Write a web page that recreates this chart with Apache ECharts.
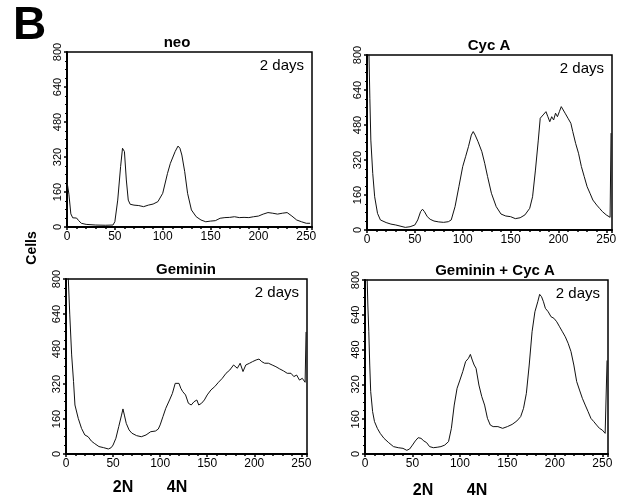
<!DOCTYPE html>
<html>
<head>
<meta charset="utf-8">
<script src="https://cdn.jsdelivr.net/npm/echarts@6/dist/echarts.min.js"></script>
<style>
  html, body { margin: 0; padding: 0; background: #fff; }
  #chart { width: 622px; height: 499px; }
</style>
</head>
<body>
<div id="chart"></div>
<script>
// panel titles
var panelTitles = ['neo', 'Cyc A', 'Geminin', 'Geminin + Cyc A'];
var dayLabel = '2 days';

// DNA content channel vs cell count
var neoCells = [
  [0, 207], [2, 150], [4, 60], [6, 42], [8, 40], [10, 41], [12, 30], [15, 17], [20, 12], [30, 9],
  [40, 8], [48, 9], [50, 24], [53, 123], [56, 276], [58, 360], [59, 367], [60, 345], [62, 215],
  [64, 123], [66, 104], [70, 100], [75, 98], [80, 93], [85, 100], [90, 105], [95, 116], [100, 154],
  [105, 245], [108, 291], [110, 299], [113, 345], [116, 370], [118, 360], [120, 329], [123, 253],
  [126, 154], [130, 78], [135, 47], [140, 32], [145, 24], [150, 27], [155, 29], [160, 40], [165, 43],
  [170, 44], [175, 47], [180, 43], [185, 44], [190, 43], [195, 47], [200, 50], [205, 59], [210, 66],
  [215, 63], [220, 59], [225, 63], [230, 66], [235, 50], [240, 32], [245, 24], [250, 17], [254, 17]
];

var cycACells = [
  [0, 900], [2, 820], [3, 600], [4, 411], [6, 259], [8, 152], [11, 76], [14, 46], [20, 34], [25, 27],
  [30, 23], [40, 12], [45, 15], [50, 23], [53, 46], [56, 84], [58, 95], [60, 84], [63, 61], [66, 49],
  [70, 41], [75, 37], [80, 35], [85, 38], [88, 46], [92, 107], [96, 198], [100, 290], [103, 335],
  [106, 381], [109, 434], [111, 450], [113, 434], [116, 404], [118, 396], [120, 358], [123, 305],
  [126, 244], [130, 168], [135, 107], [140, 73], [145, 64], [150, 61], [155, 52], [160, 56], [165, 69],
  [170, 99], [173, 152], [176, 274], [179, 411], [181, 511], [184, 526], [187, 541], [189, 518],
  [191, 495], [193, 518], [195, 503], [197, 534], [199, 518], [201, 541], [203, 564], [205, 556],
  [207, 534], [210, 511], [213, 488], [215, 450], [218, 396], [221, 351], [224, 290], [227, 244],
  [230, 198], [233, 168], [236, 137], [240, 114], [243, 99], [246, 84], [250, 69], [254, 58], [255, 443]
];

var gemininCells = [
  [0, 900], [2, 850], [4, 636], [6, 453], [8, 331], [9.5, 224], [13, 163], [16.5, 117], [20, 87],
  [23.5, 79], [27, 59], [30, 49], [35, 34], [40, 29], [45, 23], [48, 29], [50, 41], [53, 72], [56, 125],
  [59, 178], [60.5, 206], [62, 178], [64, 140], [67, 110], [70, 95], [75, 84], [80, 79], [85, 87],
  [90, 102], [95, 105], [98, 114], [100, 133], [103, 171], [106, 209], [110, 247], [113, 277],
  [116, 323], [118, 326], [120, 323], [122, 300], [124, 285], [127, 270], [130, 232], [133, 224],
  [136, 239], [139, 247], [141, 224], [144, 232], [147, 247], [150, 270], [154, 293], [158, 308],
  [162, 328], [166, 346], [170, 369], [174, 384], [178, 407], [182, 392], [185, 415], [188, 377],
  [191, 407], [195, 415], [198, 422], [202, 430], [205, 434], [208, 422], [211, 415], [215, 415],
  [219, 407], [223, 399], [227, 389], [231, 380], [235, 369], [239, 369], [242, 354], [245, 361],
  [248, 338], [251, 346], [254, 328], [255, 558]
];

var gemCycACells = [
  [0, 900], [2, 850], [3, 685], [4, 562], [5, 409], [6, 287], [8, 195], [10, 149], [13, 118], [16, 95],
  [20, 72], [25, 52], [30, 34], [35, 29], [40, 26], [44, 17], [47, 23], [50, 41], [53, 60], [56, 75],
  [59, 72], [62, 60], [65, 52], [68, 34], [72, 29], [76, 31], [80, 34], [84, 41], [88, 57], [91, 118],
  [94, 225], [97, 302], [100, 340], [103, 379], [106, 425], [109, 440], [111, 458], [113, 432],
  [115, 409], [117, 394], [120, 317], [123, 264], [126, 225], [129, 164], [132, 133], [135, 126],
  [140, 126], [145, 118], [150, 126], [155, 136], [160, 152], [164, 172], [167, 210], [170, 279],
  [173, 409], [176, 562], [179, 654], [182, 700], [184, 734], [186, 723], [188, 700], [190, 670],
  [193, 654], [196, 631], [199, 624], [202, 608], [205, 585], [208, 562], [211, 539], [214, 509],
  [217, 471], [220, 409], [223, 333], [226, 294], [229, 256], [232, 225], [235, 195], [238, 164],
  [241, 149], [244, 133], [247, 118], [250, 110], [253, 95], [255, 430]
];

var panelData = [neoCells, cycACells, gemininCells, gemCycACells];

var font = '"Liberation Sans", Arial, Helvetica, sans-serif';

// panel boxes (left, top, width, height) + where the title is centred
var boxes = [
  { left: 67, top: 52, width: 245, height: 175, titleX: 177 },
  { left: 367, top: 55, width: 245, height: 175, titleX: 489 },
  { left: 66, top: 279, width: 241, height: 175, titleX: 186 },
  { left: 365, top: 280, width: 243, height: 174, titleX: 495 }
];

var grids = [], xAxes = [], yAxes = [], series = [], graphics = [];

boxes.forEach(function (b, i) {
  grids.push({
    left: b.left, top: b.top, width: b.width, height: b.height,
    show: true, borderColor: '#000', borderWidth: 1.5, containLabel: false
  });
  xAxes.push({
    type: 'value', gridIndex: i, min: 0, max: 256, interval: 50,
    axisLine: { onZero: false, lineStyle: { color: '#000', width: 2 } },
    axisTick: { show: true, length: 3, lineStyle: { color: '#000', width: 1.5 } },
    minorTick: { show: true, splitNumber: 5, length: 2, lineStyle: { color: '#000', width: 1.5 } },
    splitLine: { show: false },
    axisLabel: { color: '#000', fontFamily: font, fontSize: 12, margin: 4, showMaxLabel: false }
  });
  yAxes.push({
    type: 'value', gridIndex: i, min: 0, max: 800, interval: 160,
    axisLine: { show: true, lineStyle: { color: '#000', width: 2 } },
    axisTick: { show: true, length: 3, lineStyle: { color: '#000', width: 1.5 } },
    minorTick: { show: true, splitNumber: 4, length: 2, lineStyle: { color: '#000', width: 1 } },
    splitLine: { show: false },
    axisLabel: { color: '#000', fontFamily: font, fontSize: 11, rotate: 90, margin: 4 }
  });
  series.push({
    type: 'line', xAxisIndex: i, yAxisIndex: i,
    data: panelData[i], showSymbol: false, symbol: 'none', clip: true,
    lineStyle: { color: '#111', width: 1 }
  });
  // panel title
  graphics.push({
    type: 'text', x: b.titleX, y: b.top - 2,
    style: { text: panelTitles[i], font: 'bold 15px ' + font, fill: '#000',
      textAlign: 'center', textVerticalAlign: 'bottom' }
  });
  // "2 days"
  graphics.push({
    type: 'text', x: b.left + b.width - 8, y: b.top + 14,
    style: { text: dayLabel, font: '15px ' + font, fill: '#000',
      textAlign: 'right', textVerticalAlign: 'middle' }
  });
});

graphics.push(
  { type: 'text', x: 13, y: 26,
    style: { text: 'B', font: 'bold 46px ' + font, fill: '#000', textAlign: 'left', textVerticalAlign: 'middle' } },
  { type: 'text', x: 32, y: 248, rotation: Math.PI / 2,
    style: { text: 'Cells', font: 'bold 14px ' + font, fill: '#000', textAlign: 'center', textVerticalAlign: 'middle' } },
  { type: 'text', x: 123, y: 488,
    style: { text: '2N', font: 'bold 16px ' + font, fill: '#000', textAlign: 'center', textVerticalAlign: 'middle' } },
  { type: 'text', x: 177, y: 488,
    style: { text: '4N', font: 'bold 16px ' + font, fill: '#000', textAlign: 'center', textVerticalAlign: 'middle' } },
  { type: 'text', x: 423, y: 491,
    style: { text: '2N', font: 'bold 16px ' + font, fill: '#000', textAlign: 'center', textVerticalAlign: 'middle' } },
  { type: 'text', x: 477, y: 491,
    style: { text: '4N', font: 'bold 16px ' + font, fill: '#000', textAlign: 'center', textVerticalAlign: 'middle' } }
);

var chart = echarts.init(document.getElementById('chart'), null, { renderer: 'canvas' });
chart.setOption({
  animation: false,
  backgroundColor: '#fff',
  grid: grids,
  xAxis: xAxes,
  yAxis: yAxes,
  series: series,
  graphic: { elements: graphics }
});
</script>
</body>
</html>
